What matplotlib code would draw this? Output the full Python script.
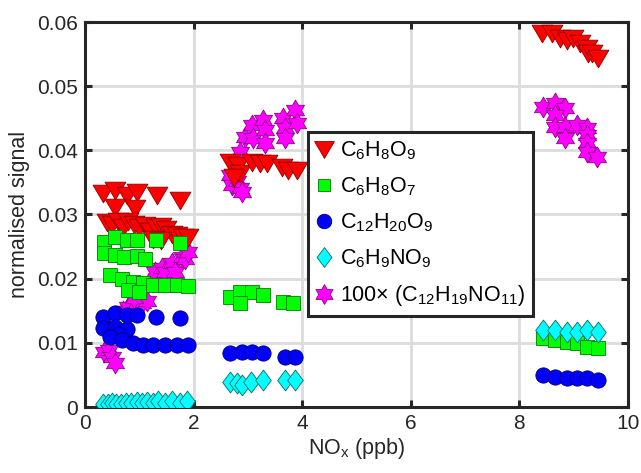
import numpy as np
import matplotlib
matplotlib.use("Agg")
import matplotlib.pyplot as plt
from matplotlib.path import Path

plt.rcParams['font.family'] = ['Liberation Sans', 'DejaVu Sans']
plt.rcParams['mathtext.fontset'] = 'custom'
plt.rcParams['mathtext.rm'] = 'Liberation Sans'
plt.rcParams['mathtext.it'] = 'Liberation Sans'
plt.rcParams['mathtext.default'] = 'regular'

# ---------------- data ----------------
# C6H8O9 (red triangles)
red_x = [0.33, 0.55, 0.77, 0.96, 1.33, 1.75, 0.55, 0.92,
         0.4, 0.5, 0.6, 0.7, 0.8, 0.9, 1.0, 1.1, 1.2, 1.3, 1.4, 1.5, 1.6, 1.7, 1.8, 1.9, 1.25, 1.4,
         2.67, 2.82, 2.85, 3.08, 3.22, 3.35, 3.63, 3.74, 3.9, 2.75,
         8.42, 8.6, 8.75, 8.88, 8.99, 9.12, 9.24, 9.26, 9.34, 9.45]
red_y = [0.0333, 0.0338, 0.0330, 0.0335, 0.0330, 0.0322, 0.0312, 0.0310,
         0.0288, 0.0285, 0.0290, 0.0280, 0.0290, 0.0285, 0.0280, 0.0283, 0.0275, 0.0280, 0.0282, 0.0278, 0.0270, 0.0268, 0.0265, 0.0265, 0.0262, 0.0260,
         0.0382, 0.0377, 0.0365, 0.0382, 0.0380, 0.0380, 0.0374, 0.0369, 0.0369, 0.0358,
         0.0583, 0.0583, 0.0575, 0.0572, 0.0575, 0.0567, 0.0560, 0.0552, 0.0552, 0.0544]

# C6H8O7 (green squares)
green_x = [0.35, 0.55, 0.77, 0.96, 1.3, 1.75,
           0.35, 0.55, 0.72, 0.96, 1.1,
           0.46, 0.68, 0.88, 1.07, 1.25, 1.47, 1.69, 1.9, 0.8, 1.0,
           2.67, 2.85, 3.08, 3.28, 2.85, 3.65, 3.83,
           8.43, 8.66, 8.88, 9.06, 9.24, 9.45]
green_y = [0.0257, 0.0265, 0.0260, 0.0260, 0.0260, 0.0255,
           0.0240, 0.0237, 0.0233, 0.0235, 0.0230,
           0.0206, 0.0200, 0.0195, 0.0193, 0.0190, 0.0190, 0.0190, 0.0188, 0.0183, 0.0180,
           0.0171, 0.0179, 0.0179, 0.0174, 0.0162, 0.0164, 0.0162,
           0.0107, 0.0104, 0.0101, 0.0100, 0.0093, 0.0092]

# C12H20O9 (blue circles)
blue_x = [0.33, 0.55, 0.77, 0.96, 1.3, 1.75,
          0.33, 0.55, 0.77, 0.6,
          0.46, 0.68, 0.88, 1.07, 1.25, 1.47, 1.69, 1.9,
          2.67, 2.9, 3.08, 3.28, 3.68, 3.87,
          8.43, 8.66, 8.88, 9.06, 9.24, 9.45]
blue_y = [0.0140, 0.0146, 0.0143, 0.0143, 0.0140, 0.0139,
          0.0123, 0.0124, 0.0121, 0.0113,
          0.0109, 0.0104, 0.0100, 0.0097, 0.0097, 0.0097, 0.0097, 0.0096,
          0.0084, 0.0086, 0.0086, 0.0084, 0.0078, 0.0078,
          0.0050, 0.0047, 0.0045, 0.0045, 0.0045, 0.0042]

# C6H9NO9 (cyan diamonds)
cyan_x = [0.33, 0.42, 0.5, 0.58, 0.66, 0.75, 0.85, 0.96, 1.05, 1.15, 1.25, 1.35, 1.47, 1.6, 1.75, 1.87,
          2.67, 2.8, 2.9, 3.05, 3.28, 3.68, 3.87,
          8.43, 8.66, 8.88, 9.06, 9.24, 9.45]
cyan_y = [0.0005, 0.0004, 0.0006, 0.0005, 0.0004, 0.0007, 0.0006, 0.0008, 0.0006, 0.0008, 0.0007, 0.0009, 0.0006, 0.0009, 0.0007, 0.0010,
          0.0039, 0.0037, 0.0035, 0.0039, 0.0042, 0.0042, 0.0042,
          0.0120, 0.0120, 0.0117, 0.0117, 0.0120, 0.0117]

# 100 x C12H19NO11 (magenta hexagrams)
mag_x = [0.35, 0.45, 0.5, 0.55,
         0.7, 0.8, 0.95, 1.05, 1.15, 0.9,
         1.29, 1.42, 1.47, 1.6, 1.66, 1.79, 1.84, 1.9,
         2.67, 2.7, 2.8, 2.85, 2.9,
         2.85, 2.95, 3.08, 3.09, 3.28, 3.31, 3.31, 3.65, 3.68, 3.68, 3.87, 3.9,
         8.43, 8.66, 8.84, 8.66, 8.66, 8.84, 9.06, 9.24, 8.84, 9.24, 9.24, 9.24, 9.43]
mag_y = [0.0085, 0.0089, 0.0078, 0.0069,
         0.0150, 0.0156, 0.0162, 0.0162, 0.0165, 0.0170,
         0.0210, 0.0217, 0.0210, 0.0224, 0.0210, 0.0234, 0.0230, 0.0241,
         0.0361, 0.0346, 0.0352, 0.0341, 0.0335,
         0.0397, 0.0420, 0.0439, 0.0419, 0.0447, 0.0432, 0.0411, 0.0450, 0.0435, 0.0419, 0.0463, 0.0442,
         0.0467, 0.0474, 0.0466, 0.0455, 0.0436, 0.0436, 0.0439, 0.0435, 0.0419, 0.0424, 0.0411, 0.0397, 0.0390]

labels = ['C$_6$H$_8$O$_9$', 'C$_6$H$_8$O$_7$', 'C$_{12}$H$_{20}$O$_9$',
          'C$_6$H$_9$NO$_9$', '100$\\times$ (C$_{12}$H$_{19}$NO$_{11}$)']
x_ticks = [0, 2, 4, 6, 8, 10]
y_ticks = [0, 0.01, 0.02, 0.03, 0.04, 0.05, 0.06]
y_tick_labels = ['0', '0.01', '0.02', '0.03', '0.04', '0.05', '0.06']

# ---------------- markers ----------------
ang_o = np.deg2rad(90 + 60 * np.arange(6))
ang_i = ang_o + np.deg2rad(30)
r_in = 1 / np.sqrt(3)
verts = []
for a, b in zip(ang_o, ang_i):
    verts.append((np.cos(a), np.sin(a)))
    verts.append((r_in * np.cos(b), r_in * np.sin(b)))
verts.append(verts[0])
hexagram = Path(verts, [Path.MOVETO] + [Path.LINETO] * 11 + [Path.CLOSEPOLY])
diamond = Path([(0, 1), (0.75, 0), (0, -1), (-0.75, 0), (0, 1)],
               [Path.MOVETO, Path.LINETO, Path.LINETO, Path.LINETO, Path.CLOSEPOLY])
tri = Path([(-1, 0.8), (1, 0.8), (0, -0.9), (-1, 0.8)],
           [Path.MOVETO, Path.LINETO, Path.LINETO, Path.CLOSEPOLY])

fig = plt.figure(figsize=(6.41, 4.73), dpi=100)
ax = fig.add_axes([85 / 641, 1 - 407 / 473, 543 / 641, 385 / 473])

ew = 0.6
h_mag, = ax.plot(mag_x, mag_y, ls='none', marker=hexagram, ms=15, mfc='#ff00ff',
                 mec='#8a008a', mew=ew, zorder=2)
h_red, = ax.plot(red_x, red_y, ls='none', marker=tri, ms=15, mfc='#ff0000',
                 mec='#8b0000', mew=ew, zorder=3)
h_green, = ax.plot(green_x, green_y, ls='none', marker='s', ms=9.5, mfc='#00ff00',
                   mec='#007a00', mew=ew, zorder=4)
h_blue, = ax.plot(blue_x, blue_y, ls='none', marker='o', ms=11, mfc='#0000ff',
                  mec='#000070', mew=ew, zorder=5)
h_cyan, = ax.plot(cyan_x, cyan_y, ls='none', marker=diamond, ms=15, mfc='#00ffff',
                  mec='#006b6b', mew=ew, zorder=6)

ax.set_xlim(0, 10)
ax.set_ylim(0, 0.06)
ax.set_xticks(x_ticks)
ax.set_yticks(y_ticks)
ax.set_xticklabels([str(v) for v in x_ticks])
ax.set_yticklabels(y_tick_labels)
ax.grid(True, color='#dcdcdc', lw=2.0)
ax.set_axisbelow(True)
for s in ax.spines.values():
    s.set_linewidth(2.2)
    s.set_color('#262626')
ax.tick_params(direction='in', length=5, width=2.2, color='#262626',
               top=True, right=True, labelsize=15, labelcolor='#262626', pad=5)
ax.set_xlabel('NO$_x$ (ppb)', fontsize=15.5, color='#262626', labelpad=2)
ax.set_ylabel('normalised signal', fontsize=15.5, color='#262626', labelpad=5)

leg = ax.legend([h_red, h_green, h_blue, h_cyan, h_mag], labels,
                loc='upper left', bbox_to_anchor=((308 - 85) / 543, (407 - 132) / 385),
                borderaxespad=0, fontsize=15.5, frameon=True, fancybox=False,
                handlelength=0.8, handletextpad=0.35, labelspacing=0.62,
                borderpad=0.35, markerscale=0.95)
leg.get_frame().set_edgecolor('#262626')
leg.get_frame().set_linewidth(2.2)
leg.get_frame().set_alpha(1)

fig.savefig('out.png', dpi=100)
